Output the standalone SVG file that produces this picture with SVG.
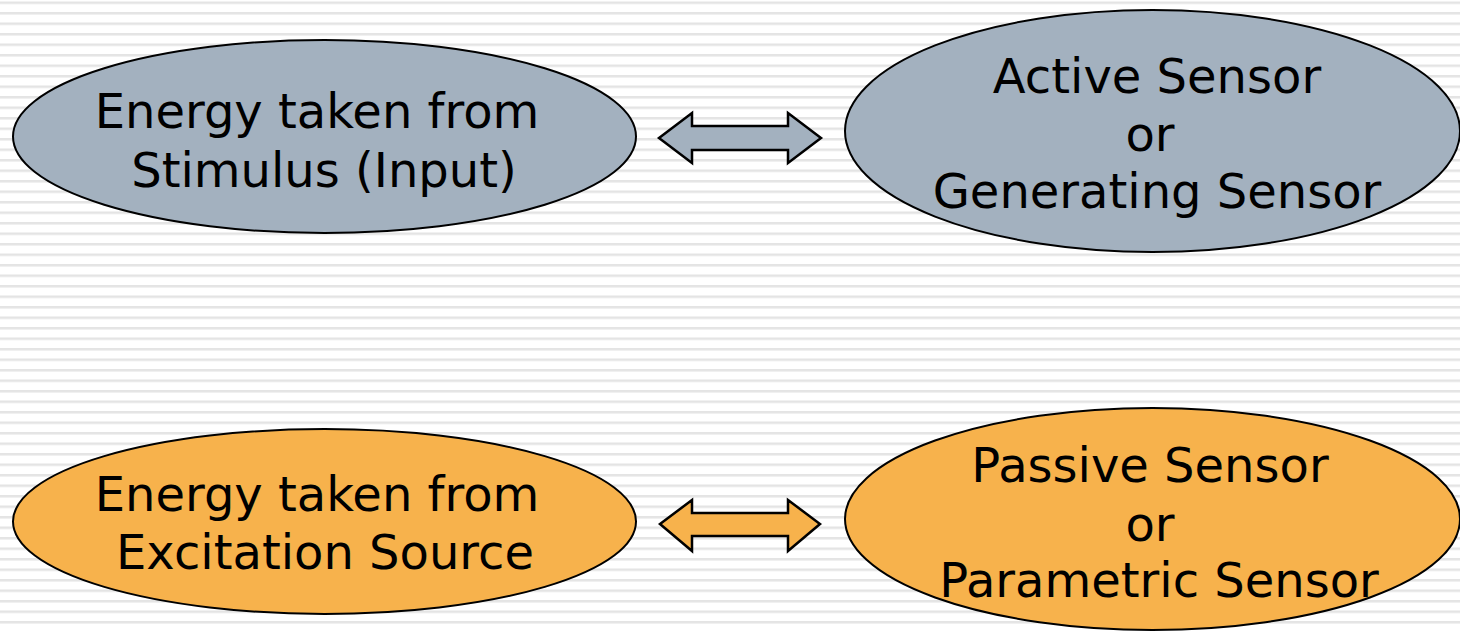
<svg xmlns="http://www.w3.org/2000/svg" width="1460" height="631" viewBox="0 0 1460 631">
<defs>
<pattern id="stripes" x="0" y="1.5" width="20" height="10.5" patternUnits="userSpaceOnUse">
<rect x="0" y="0" width="20" height="10.5" fill="#ffffff"/>
<rect x="0" y="0" width="20" height="2.5" fill="#e4e4e4"/>
</pattern>
<style>
.gray{fill:#a3b1bf;stroke:#000;stroke-width:2}
.orange{fill:#f7b24c;stroke:#000;stroke-width:2}
.arrow{stroke:#000;stroke-width:2.5;stroke-linejoin:miter}
.t{font-family:"DejaVu Sans","Verdana",sans-serif;font-size:48px;fill:#000;text-anchor:middle}
</style>
</defs>
<rect width="1460" height="631" fill="url(#stripes)"/>
<g id="connectors">
<polygon class="arrow gray" points="659,138 692,113 692,126 788,126 788,113 821,138 788,163 788,150 692,150 692,163"/>
<polygon class="arrow orange" points="660,524 692,500 692,513 788,513 788,500 820,524 788,551 788,536 692,536 692,551"/>
</g>
<g id="node-stimulus">
<ellipse class="gray" cx="324.5" cy="136.5" rx="311.5" ry="96.5"/>
<text class="t" x="317" y="128">Energy taken from</text>
<text class="t" x="324" y="187">Stimulus (Input)</text>
</g>
<g id="node-active">
<ellipse class="gray" cx="1152.5" cy="131" rx="307.5" ry="121"/>
<text class="t" x="1157" y="93">Active Sensor</text>
<text class="t" x="1150" y="151">or</text>
<text class="t" x="1157" y="208">Generating Sensor</text>
</g>
<g id="node-excitation">
<ellipse class="orange" cx="324.5" cy="521.5" rx="311.5" ry="92.5"/>
<text class="t" x="317" y="511">Energy taken from</text>
<text class="t" x="325" y="569">Excitation Source</text>
</g>
<g id="node-passive">
<ellipse class="orange" cx="1152.5" cy="519" rx="307.5" ry="111"/>
<text class="t" x="1150" y="482">Passive Sensor</text>
<text class="t" x="1150" y="541">or</text>
<text class="t" x="1159" y="597">Parametric Sensor</text>
</g>
</svg>
